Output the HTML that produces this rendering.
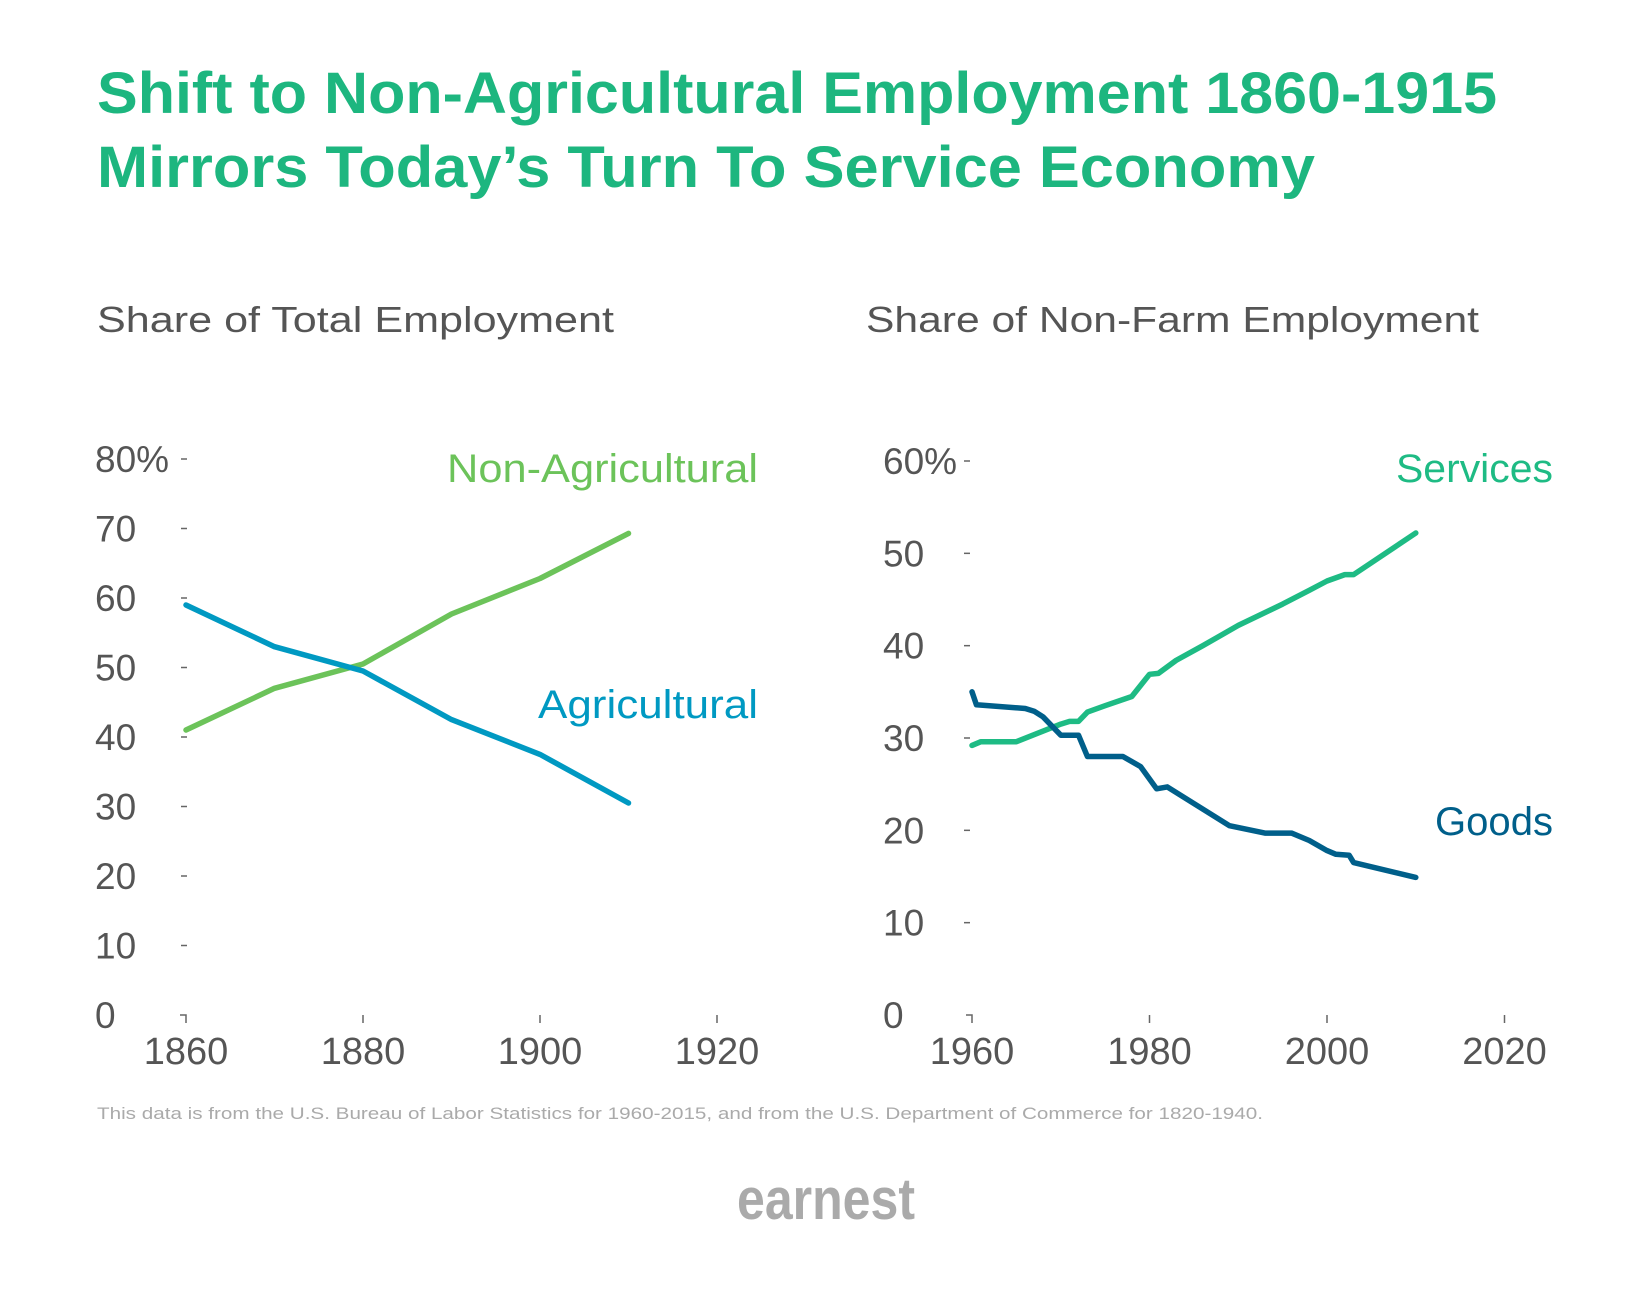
<!DOCTYPE html>
<html><head><meta charset="utf-8"><style>
html,body{margin:0;padding:0;background:#fff;}
svg{display:block;font-family:"Liberation Sans",sans-serif;}
</style></head><body>
<svg id="chart" width="1650" height="1295" viewBox="0 0 1650 1295" xmlns="http://www.w3.org/2000/svg">
<text x="97" y="113" font-size="58" font-weight="bold" fill="#1db67f" textLength="1400" lengthAdjust="spacingAndGlyphs">Shift to Non-Agricultural Employment 1860-1915</text>
<text x="97" y="187" font-size="58" font-weight="bold" fill="#1db67f" textLength="1218" lengthAdjust="spacingAndGlyphs">Mirrors Today’s Turn To Service Economy</text>
<text x="97" y="332" font-size="36" fill="#555" textLength="517" lengthAdjust="spacingAndGlyphs">Share of Total Employment</text>
<text x="866" y="332" font-size="36" fill="#555" textLength="613" lengthAdjust="spacingAndGlyphs">Share of Non-Farm Employment</text>
<g id="left"></g>
<g id="right"></g>
<text x="97" y="1119" font-size="17" fill="#aaa" textLength="1166" lengthAdjust="spacingAndGlyphs">This data is from the U.S. Bureau of Labor Statistics for 1960-2015, and from the U.S. Department of Commerce for 1820-1940.</text>
<text x="737" y="1219" font-size="58" font-weight="bold" fill="#aaa" textLength="178" lengthAdjust="spacingAndGlyphs">earnest</text>
</svg>
<script>
// Left chart data
const leftYears = [1860, 1870, 1880, 1890, 1900, 1910];
const agricultural = [59, 53, 49.5, 42.5, 37.5, 30.5];
const nonAgricultural = [41, 47, 50.5, 57.7, 62.8, 69.3];
const leftXTicks = [1860, 1880, 1900, 1920];
const leftYTicks = [0, 10, 20, 30, 40, 50, 60, 70, 80];
// Right chart data
const servYears = [1960, 1961, 1965, 1970, 1971, 1972, 1973, 1975, 1978, 1980, 1981, 1983, 1986, 1990, 1995, 1998, 2000, 2002, 2003, 2010];
const services = [29.2, 29.6, 29.6, 31.5, 31.8, 31.8, 32.8, 33.5, 34.5, 36.9, 37, 38.4, 40, 42.2, 44.5, 46, 47, 47.7, 47.7, 52.2];
const goodsYears = [1960, 1960.5, 1966, 1967, 1968, 1970, 1972, 1973, 1977, 1979, 1980.8, 1982, 1989, 1993, 1996, 1998, 2000, 2001, 2002.5, 2003, 2010];
const goods = [35, 33.6, 33.2, 32.9, 32.3, 30.3, 30.3, 28, 28, 26.9, 24.5, 24.7, 20.5, 19.7, 19.7, 18.9, 17.8, 17.4, 17.3, 16.5, 14.9];
const rightXTicks = [1960, 1980, 2000, 2020];
const rightYTicks = [0, 10, 20, 30, 40, 50, 60];

const NS = "http://www.w3.org/2000/svg";
function mk(tag, attrs, parent, txt){
  const e = document.createElementNS(NS, tag);
  for (const k in attrs) e.setAttribute(k, attrs[k]);
  if (txt !== undefined) e.textContent = txt;
  parent.appendChild(e); return e;
}
function drawChart(g, cfg){
  const xs = v => cfg.x0 + (v - cfg.xmin) / (cfg.xmax - cfg.xmin) * (cfg.x1 - cfg.x0);
  const ys = v => cfg.y0 - v / cfg.ymax * (cfg.y0 - cfg.y1);
  cfg.yTicks.forEach((t, i) => {
    const last = i === cfg.yTicks.length - 1;
    const tx = mk('text', {x: cfg.labX, y: ys(t) + 13, 'font-size': 37, fill: '#555'}, g, last ? t + '%' : String(t));
    
    
    if (t !== 0) {
      const tk = mk('line', {x1: cfg.tickX, x2: cfg.tickX + 6, y1: ys(t), y2: ys(t), stroke: '#666', 'stroke-width': 1.5}, g);
      
      
    }
  });
  cfg.xTicks.forEach((t, i) => {
    const x = xs(t);
    const tk = mk('path', {d: i === 0 ? `M${x-6},${cfg.y0} H${x} V${cfg.y0+8}` : `M${x},${cfg.y0} V${cfg.y0+8}`, stroke: '#666', 'stroke-width': 1.5, fill: 'none'}, g);
    
    
    const tx = mk('text', {x: x, y: 1064, 'font-size': 38, fill: '#555', 'text-anchor': 'middle'}, g, String(t));
    
    
  });
  cfg.series.forEach(s => {
    const d = s.years.map((yr, i) => (i ? 'L' : 'M') + xs(yr).toFixed(1) + ',' + ys(s.vals[i]).toFixed(1)).join(' ');
    const p = mk('path', {d: d, stroke: s.color, 'stroke-width': 5.5, fill: 'none', 'stroke-linecap': 'round', 'stroke-linejoin': 'round'}, g);
    
    
    const l = mk('text', {x: s.lx, y: s.ly, 'font-size': 40, fill: s.color, 'text-anchor': 'end', textLength: s.lw, lengthAdjust: 'spacingAndGlyphs'}, g, s.label);
    
    
  });
}
drawChart(document.getElementById('left'), {
  x0: 186, x1: 540, xmin: 1860, xmax: 1900, y0: 1015, y1: 459, ymax: 80,
  labX: 95, tickX: 181, xTicks: leftXTicks, yTicks: leftYTicks,
  series: [
    {name: 'non-agricultural', years: leftYears, vals: nonAgricultural, color: '#6cc35a', label: 'Non-Agricultural', lx: 758, ly: 482, lw: 311},
    {name: 'agricultural', years: leftYears, vals: agricultural, color: '#0099c2', label: 'Agricultural', lx: 758, ly: 718, lw: 220}
  ]
});
drawChart(document.getElementById('right'), {
  x0: 972, x1: 1327, xmin: 1960, xmax: 2000, y0: 1015, y1: 461, ymax: 60,
  labX: 883, tickX: 964, xTicks: rightXTicks, yTicks: rightYTicks,
  series: [
    {name: 'services', years: servYears, vals: services, color: '#1ebb84', label: 'Services', lx: 1553, ly: 482, lw: 157},
    {name: 'goods', years: goodsYears, vals: goods, color: '#005f8a', label: 'Goods', lx: 1553, ly: 835, lw: 118}
  ]
});
</script>
</body></html>
